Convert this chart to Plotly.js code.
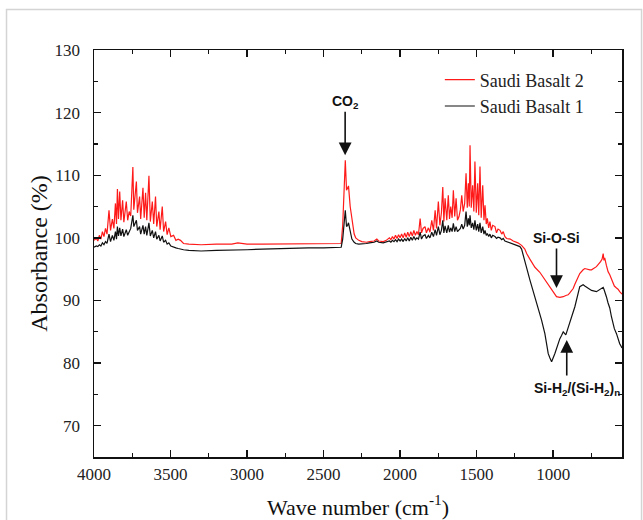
<!DOCTYPE html>
<html>
<head>
<meta charset="utf-8">
<script src="https://cdn.plot.ly/plotly-3.0.1.min.js"></script>
<style>
  html, body { margin: 0; padding: 0; background: #ffffff; }
  #chart { width: 643px; height: 520px; }
</style>
</head>
<body>
<div id="chart"></div>
<script>
// Wavenumber (cm-1), shared by both spectra
const wavenumber = [
  4000,3985,3975,3965,3955,3945,3935,3925,3915,3902,
  3892,3880,3870,3860,3853,3847,3840,3832,3824,3813,
  3805,3797,3789,3780,3770,3760,3746,3740,3733,3723,
  3716,3709,3702,3695,3688,3680,3672,3663,3655,3641,
  3632,3625,3619,3610,3598,3590,3582,3576,3568,3554,
  3545,3532,3522,3511,3498,3480,3465,3450,3435,3415,
  3380,3300,3200,3100,3060,3040,3000,2900,2800,2700,
  2600,2500,2400,2385,2375,2365,2358,2350,2343,2337,
  2326,2315,2300,2290,2270,2250,2220,2200,2170,2152,
  2140,2110,2090,2070,2060,2050,2040,2030,2020,2010,
  2000,1990,1980,1970,1960,1950,1940,1930,1920,1910,
  1900,1890,1880,1869,1860,1850,1837,1828,1815,1805,
  1793,1782,1771,1762,1750,1740,1730,1721,1714,1706,
  1695,1685,1677,1669,1660,1652,1643,1634,1625,1615,
  1606,1597,1588,1578,1569,1561,1554,1548,1543,1535,
  1526,1518,1511,1502,1493,1486,1478,1470,1460,1452,
  1445,1437,1430,1421,1413,1404,1395,1380,1370,1360,
  1347,1336,1326,1315,1304,1280,1261,1230,1217,1206,
  1185,1173,1152,1130,1119,1087,1076,1054,1032,1021,
  1010,989,978,956,945,934,917,902,891,869,
  858,826,804,793,760,749,717,706,690,680,
  673,668,663,652,641,630,619,609,600,586,
  576,565,554,550
];

// Saudi Basalt 2 (red) absorbance (%)
const basalt2 = [
  99.6,99.9,99.5,100.4,99.8,101.0,100.2,101.5,100.6,104.4,
  101.2,103.0,101.5,105.5,102.2,107.8,103.0,107.4,102.8,106.0,
  102.5,104.5,105.8,102.8,104.2,103.5,111.3,104.5,107.0,109.0,
  104.0,105.5,106.6,103.0,105.0,108.0,103.2,107.2,102.8,109.9,
  102.6,104.5,105.8,102.2,106.6,101.8,103.0,104.2,101.3,105.0,
  101.0,102.6,100.5,101.6,100.2,100.4,99.6,99.8,99.6,99.1,
  99.0,98.9,99.0,99.0,99.2,99.1,99.0,99.0,99.0,99.0,
  99.0,99.0,99.0,99.1,102.0,109.0,112.4,107.6,108.0,108.3,
  105.0,102.8,100.6,100.0,99.6,99.4,99.3,99.4,99.5,99.8,
  99.5,99.4,99.6,100.0,99.7,100.2,99.8,100.4,99.9,100.5,
  100.0,100.6,100.0,100.8,100.1,100.9,100.2,101.0,100.3,101.2,
  100.4,101.0,100.5,103.1,100.8,101.5,101.8,100.8,101.6,100.9,
  102.8,101.2,104.4,101.5,105.8,102.0,104.0,108.1,102.6,106.3,
  102.8,106.8,103.0,105.0,103.2,107.6,103.4,106.3,102.8,103.4,
  104.5,106.8,104.2,105.5,110.3,104.8,108.7,105.0,114.8,104.8,
  108.4,104.2,112.2,104.0,108.7,103.6,111.4,103.2,108.4,102.8,
  105.2,102.2,103.1,101.6,102.6,101.2,102.0,101.8,100.8,101.4,
  101.2,100.6,101.0,100.2,99.9,99.8,99.5,99.2,99.0,98.8,
  98.2,97.5,96.6,95.7,95.3,94.5,94.1,93.2,92.6,92.2,
  91.8,91.0,90.6,90.5,90.5,90.6,90.8,90.9,91.2,91.9,
  92.6,94.3,94.9,95.1,94.9,94.9,95.4,95.7,96.2,96.6,
  97.5,96.4,96.8,95.6,94.6,94.1,93.4,92.9,92.3,92.0,
  91.8,91.4,91.1,91.0
];

// Saudi Basalt 1 (black) absorbance (%)
const basalt1 = [
  98.5,98.7,98.6,98.9,98.7,99.2,98.9,99.4,99.1,100.6,
  99.4,100.4,99.6,101.0,99.8,101.8,100.3,101.6,100.3,101.4,
  100.2,100.9,101.3,100.4,101.0,101.5,103.6,101.8,102.2,102.8,
  101.2,101.6,101.8,100.6,101.4,102.0,100.6,101.8,100.4,102.4,
  100.3,100.9,101.2,100.0,101.0,99.8,100.2,100.4,99.5,100.3,
  99.3,99.6,99.0,99.2,98.7,98.6,98.4,98.3,98.2,98.1,
  98.0,97.9,98.0,98.0,98.1,98.1,98.1,98.2,98.3,98.3,
  98.4,98.4,98.5,98.5,99.8,102.5,104.4,101.8,102.0,102.4,
  100.8,99.8,99.3,99.1,99.0,99.0,99.1,99.2,99.3,99.5,
  99.3,99.2,99.3,99.5,99.3,99.6,99.4,99.7,99.4,99.8,
  99.5,99.8,99.4,99.9,99.5,100.0,99.5,100.1,99.6,100.2,
  99.7,100.0,99.8,100.9,99.8,100.3,100.5,99.9,100.4,100.0,
  100.9,100.2,101.3,100.4,101.8,100.5,101.2,102.8,100.8,101.9,
  100.8,102.0,100.9,101.6,101.0,102.3,101.0,101.8,101.0,101.2,
  101.5,102.2,101.4,102.0,104.2,101.8,103.1,102.0,103.6,101.6,
  102.4,101.3,102.8,101.2,102.2,101.0,102.4,100.8,101.8,100.6,
  101.2,100.4,100.7,100.2,100.6,100.0,100.4,100.2,99.9,100.1,
  100.0,99.7,99.9,99.5,99.4,99.2,99.0,98.8,98.6,98.2,
  96.5,95.2,93.3,91.5,90.6,87.9,86.9,84.7,81.5,80.8,
  80.2,81.5,82.4,83.9,84.4,85.0,84.5,85.6,86.3,88.0,
  89.0,92.2,92.5,92.3,91.7,91.6,91.4,91.6,91.9,92.1,
  92.1,91.8,91.5,90.6,89.6,88.8,87.4,86.3,85.5,84.7,
  83.8,83.1,82.6,82.4
];

const seriesNames = ["Saudi Basalt 2", "Saudi Basalt 1"];
const xTicks = [4000, 3500, 3000, 2500, 2000, 1500, 1000];
const yTicks = [70, 80, 90, 100, 110, 120, 130];

// Band annotations: label, arrow tip (wavenumber, absorbance)
const bandLabels = ["CO<sub>2</sub>", "Si-O-Si", "Si-H<sub>2</sub>/(Si-H<sub>2</sub>)<sub>n</sub>"];
const bandTipX = [2359, 978, 911];
const bandTipY = [113.2, 92.0, 83.7];

const traces = [
  { x: wavenumber, y: basalt2, name: seriesNames[0], type: "scatter", mode: "lines",
    line: { color: "#ff1a1a", width: 1.2 } },
  { x: wavenumber, y: basalt1, name: seriesNames[1], type: "scatter", mode: "lines",
    line: { color: "#111111", width: 1.2 } }
];

const serif = "Liberation Serif";
const sans = "Liberation Sans";

const annFont = { family: sans, size: 14, color: "#111" };
const annotations = [
  // text labels
  { x: bandTipX[0], y: bandTipY[0], xref: "x", yref: "y", text: "<b>" + bandLabels[0] + "</b>",
    showarrow: true, arrowcolor: "rgba(0,0,0,0)", ax: 0, ay: -53, font: annFont },
  { x: bandTipX[1], y: bandTipY[1], xref: "x", yref: "y", text: "<b>" + bandLabels[1] + "</b>",
    showarrow: true, arrowcolor: "rgba(0,0,0,0)", ax: 0, ay: -50, font: annFont },
  { x: bandTipX[2], y: bandTipY[2], xref: "x", yref: "y", text: "<b>" + bandLabels[2] + "</b>",
    showarrow: true, arrowcolor: "rgba(0,0,0,0)", ax: 10, ay: 49, font: annFont },
  // arrows
  { x: bandTipX[0], y: bandTipY[0], xref: "x", yref: "y", text: "", showarrow: true,
    ax: 0, ay: -45, arrowhead: 2, arrowsize: 1.6, arrowwidth: 1.6, arrowcolor: "#111" },
  { x: bandTipX[1], y: bandTipY[1], xref: "x", yref: "y", text: "", showarrow: true,
    ax: 0, ay: -41, arrowhead: 2, arrowsize: 1.6, arrowwidth: 1.6, arrowcolor: "#111" },
  { x: bandTipX[2], y: bandTipY[2], xref: "x", yref: "y", text: "", showarrow: true,
    ax: 0, ay: 37, arrowhead: 2, arrowsize: 1.6, arrowwidth: 1.6, arrowcolor: "#111" }
];

const layout = {
  width: 643, height: 520,
  margin: { l: 94, r: 21, t: 50, b: 63 },
  paper_bgcolor: "#ffffff", plot_bgcolor: "#ffffff",
  font: { family: serif, color: "#222" },
  showlegend: true,
  legend: { x: 0.655, y: 0.972, xanchor: "left", yanchor: "top",
    bgcolor: "rgba(0,0,0,0)", font: { family: serif, size: 18, color: "#222" },
    tracegroupgap: 0 },
  xaxis: {
    range: [4000, 550], autorange: false,
    tickmode: "array", tickvals: xTicks, ticktext: xTicks.map(String),
    ticks: "inside", ticklen: 7, tickwidth: 1.3, tickcolor: "#111",
    minor: { ticks: "inside", ticklen: 4, tickwidth: 1.2, dtick: 250, tick0: 0, tickcolor: "#111" },
    showline: true, linecolor: "#111", linewidth: 1.5, mirror: "allticks",
    showgrid: false, zeroline: false,
    tickfont: { family: serif, size: 17, color: "#222" },
    ticklabelstandoff: 1,
    title: { text: "Wave number (cm<sup>-1</sup>)", font: { family: serif, size: 22, color: "#111" }, standoff: 16 }
  },
  yaxis: {
    range: [65, 130], autorange: false,
    tickmode: "array", tickvals: yTicks, ticktext: yTicks.map(String),
    ticks: "inside", ticklen: 7, tickwidth: 1.3, tickcolor: "#111",
    minor: { ticks: "inside", ticklen: 4, tickwidth: 1.2, dtick: 5, tick0: 0, tickcolor: "#111" },
    showline: true, linecolor: "#111", linewidth: 1.5, mirror: "allticks",
    showgrid: false, zeroline: false,
    tickfont: { family: serif, size: 17, color: "#222" },
    ticklabelstandoff: 9,
    title: { text: "Absorbance (%)", font: { family: serif, size: 24, color: "#111" }, standoff: 0 }
  },
  annotations: annotations,
  shapes: [
    { type: "rect", xref: "paper", yref: "paper",
      x0: -0.1657, x1: 1.037, y0: -0.2, y1: 1.0995,
      line: { color: "#d4d4d4", width: 1.5 }, fillcolor: "rgba(0,0,0,0)", layer: "below" }
  ]
};

Plotly.newPlot("chart", traces, layout, { displayModeBar: false, staticPlot: true });
</script>
</body>
</html>
